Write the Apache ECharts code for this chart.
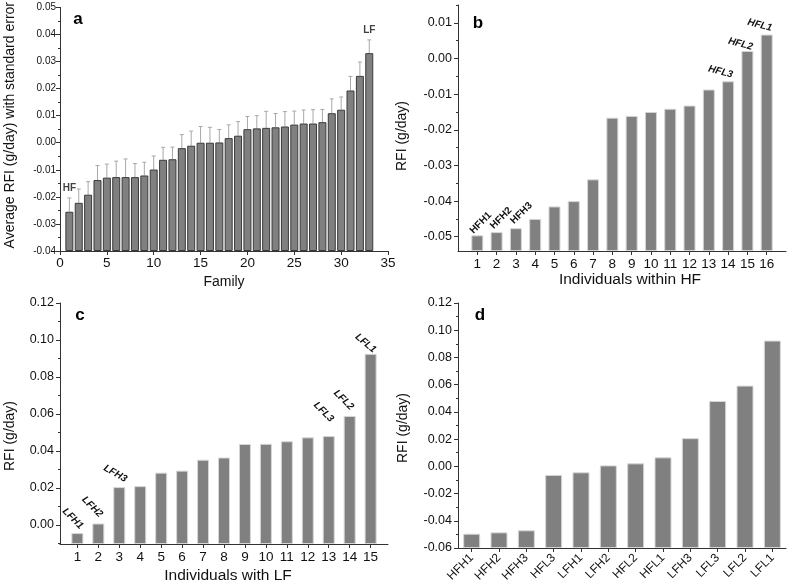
<!DOCTYPE html>
<html><head><meta charset="utf-8">
<script src="https://cdn.jsdelivr.net/npm/echarts@6/dist/echarts.min.js"></script>
<style>html,body{margin:0;padding:0;background:#fff}#c{width:787px;height:585px}</style>
</head><body><div id="c"></div>
<script>
// ---- Panel a: family means with standard error ----
const familyIds = [1,2,3,4,5,6,7,8,9,10,11,12,13,14,15,16,17,18,19,20,21,22,23,24,25,26,27,28,29,30,31,32,33];
const familyRFI = [-0.0255,-0.0222,-0.0192,-0.0138,-0.0129,-0.0127,-0.0127,-0.0127,-0.0121,-0.0099,-0.0063,-0.0061,-0.0020,-0.0011,0.0000,0.0000,0.0001,0.0017,0.0026,0.0050,0.0053,0.0055,0.0057,0.0060,0.0067,0.0071,0.0071,0.0076,0.0109,0.0122,0.0193,0.0247,0.0331];
const familyErr = [0.0051,0.0051,0.0048,0.0054,0.0050,0.0059,0.0067,0.0050,0.0049,0.0050,0.0046,0.0045,0.0050,0.0054,0.0060,0.0057,0.0048,0.0049,0.0052,0.0047,0.0047,0.0061,0.0051,0.0055,0.0050,0.0050,0.0051,0.0047,0.0053,0.0047,0.0052,0.0051,0.0049];
const familyNoteIds = [1, 33];
const familyNotes = ['HF', 'LF'];

// ---- Panel b: individuals within HF ----
const hfIds = [1,2,3,4,5,6,7,8,9,10,11,12,13,14,15,16];
const hfRFI = [-0.0496,-0.0487,-0.0476,-0.0450,-0.0415,-0.0400,-0.0339,-0.0166,-0.0161,-0.0150,-0.0141,-0.0132,-0.0087,-0.0064,0.0021,0.0067];
const hfNames = ['HFH1','HFH2','HFH3','','','','','','','','','','','HFL3','HFL2','HFL1'];

// ---- Panel c: individuals within LF ----
const lfIds = [1,2,3,4,5,6,7,8,9,10,11,12,13,14,15];
const lfRFI = [-0.0045,0.0007,0.0204,0.0209,0.0282,0.0293,0.0352,0.0364,0.0437,0.0438,0.0452,0.0473,0.0480,0.0589,0.0925];
const lfNames = ['LFH1','LFH2','LFH3','','','','','','','','','','LFL3','LFL2','LFL1'];

// ---- Panel d: selected individuals ----
const selNames = ['HFH1','HFH2','HFH3','HFL3','LFH1','LFH2','HFL2','HFL1','LFH3','LFL3','LFL2','LFL1'];
const selRFI = [-0.0495,-0.0485,-0.0470,-0.0063,-0.0044,0.0007,0.0022,0.0066,0.0207,0.0480,0.0593,0.0924];

// ---- tick labels ----
const bYLabels = [-0.05,-0.04,-0.03,-0.02,-0.01,0.00,0.01];
const bYMinor = [-0.045,-0.035,-0.025,-0.015,-0.005,0.005,0.015];
const cYLabels = [0.00,0.02,0.04,0.06,0.08,0.10,0.12];
const cYMinor = [-0.01,0.01,0.03,0.05,0.07,0.09,0.11];

// ---- styles (placement of annotation labels relative to bar top) ----
const FONT = "'Liberation Sans', Arial, sans-serif";
const labelPlace = {
  HFH1:{r:45,dx:3.5,dy:-12.5,it:false}, HFH2:{r:45,dx:4.5,dy:-14,it:false}, HFH3:{r:45,dx:5.5,dy:-15,it:false},
  HFL3:{r:-15,dx:-7.5,dy:-9.5,it:true}, HFL2:{r:-15,dx:-7,dy:-7,it:true}, HFL1:{r:-15,dx:-7,dy:-9.5,it:true},
  LFH1:{r:-45,dx:-4.5,dy:-14.5,it:true}, LFH2:{r:-45,dx:-6,dy:-16.5,it:true}, LFH3:{r:-30,dx:-4,dy:-13.5,it:true},
  LFL3:{r:-45,dx:-5,dy:-24,it:true}, LFL2:{r:-45,dx:-6,dy:-16,it:true}, LFL1:{r:-40,dx:-5,dy:-10.5,it:true}
};
const BW_B = 12, BW_C = 12, BW_D = 17;
function annotate(name, bw) {
  if (!name) return {show:false};
  const p = labelPlace[name];
  return {show:true, formatter:name, position:[bw/2 + p.dx, p.dy], rotate:p.r,
    align:'center', verticalAlign:'middle', fontSize:10, fontWeight:'bold',
    fontStyle:p.it ? 'italic' : 'normal', color:'#111', fontFamily:FONT};
}
const fmt2 = v => (Math.abs(v) < 1e-9 ? 0 : v).toFixed(2);
const axisLine = {show:true, onZero:false, lineStyle:{color:'#333', width:1}};
const tickOut = {show:true, inside:false, length:4, lineStyle:{color:'#333'}};
const txt = (size) => ({fontSize:size, color:'#111', fontFamily:FONT});

const chart = echarts.init(document.getElementById('c'), null, {renderer:'canvas'});
chart.setOption({
  animation:false,
  backgroundColor:'#fff',
  textStyle:{fontFamily:FONT},
  grid:[
    {left:60, top:5, width:328, height:246},
    {left:458, top:5, width:328, height:246},
    {left:60, top:303, width:328, height:243},
    {left:458, top:303, width:328, height:245}
  ],
  xAxis:[
    {gridIndex:0, type:'value', min:0, max:35, interval:5, splitLine:{show:false},
     axisLine, axisTick:tickOut, axisLabel:{...txt(13.5), margin:5},
     name:'Family', nameLocation:'middle', nameGap:24, nameTextStyle:txt(14)},
    {gridIndex:1, type:'value', min:0, max:17, splitLine:{show:false}, axisLine,
     axisTick:{...tickOut, customValues:hfIds}, axisLabel:{...txt(13.5), margin:6, customValues:hfIds},
     name:'Individuals within HF', nameLocation:'middle', nameGap:12,
     nameTextStyle:{...txt(15.5), padding:[0,0,0,16]}},
    {gridIndex:2, type:'value', min:0.17, max:15.83, splitLine:{show:false}, axisLine,
     axisTick:{...tickOut, customValues:lfIds}, axisLabel:{...txt(13.5), margin:6, customValues:lfIds},
     name:'Individuals with LF', nameLocation:'middle', nameGap:24,
     nameTextStyle:{...txt(15.5), padding:[0,0,0,8]}},
    {gridIndex:3, type:'category', data:selNames, axisLine,
     axisTick:{...tickOut, alignWithLabel:true},
     axisLabel:{...txt(12), rotate:45, margin:8, interval:0}}
  ],
  yAxis:[
    {gridIndex:0, type:'value', min:-0.04, max:0.05, interval:0.01, startValue:-0.04,
     splitLine:{show:false}, axisLine, axisTick:tickOut,
     minorTick:{show:true, splitNumber:2, length:2, lineStyle:{color:'#333'}},
     axisLabel:{...txt(10), margin:4, formatter:fmt2},
     name:'Average RFI (g/day) with standard error', nameLocation:'middle', nameGap:43,
     nameTextStyle:{...txt(14), padding:[0,0,0,8]}},
    {gridIndex:1, type:'value', min:-0.054, max:0.015, startValue:-0.054,
     splitLine:{show:false}, axisLine,
     axisTick:{...tickOut, customValues:bYLabels},
     axisLabel:{...txt(12.5), margin:6, formatter:fmt2, customValues:bYLabels},
     name:'RFI (g/day)', nameLocation:'middle', nameGap:49,
     nameTextStyle:{...txt(14), padding:[0,16,0,0]}},
    {gridIndex:2, type:'value', min:-0.0104, max:0.12, startValue:-0.0104,
     splitLine:{show:false}, axisLine,
     axisTick:{...tickOut, customValues:cYLabels},
     axisLabel:{...txt(12.5), margin:6, formatter:fmt2, customValues:cYLabels},
     name:'RFI (g/day)', nameLocation:'middle', nameGap:43,
     nameTextStyle:{...txt(14), padding:[0,25,0,0]}},
    {gridIndex:3, type:'value', min:-0.06, max:0.12, interval:0.02, startValue:-0.06,
     splitLine:{show:false}, axisLine, axisTick:tickOut,
     minorTick:{show:true, splitNumber:2, length:2, lineStyle:{color:'#333'}},
     axisLabel:{...txt(12.5), margin:6, formatter:fmt2},
     name:'RFI (g/day)', nameLocation:'middle', nameGap:48,
     nameTextStyle:{...txt(14), padding:[0,5,0,0]}},
    {gridIndex:1, type:'value', position:'left', min:-0.054, max:0.015, splitLine:{show:false},
     axisLine:{show:false, onZero:false}, axisLabel:{show:false},
     axisTick:{show:true, length:2, customValues:bYMinor, lineStyle:{color:'#333'}}},
    {gridIndex:2, type:'value', position:'left', min:-0.0104, max:0.12, splitLine:{show:false},
     axisLine:{show:false, onZero:false}, axisLabel:{show:false},
     axisTick:{show:true, length:2, customValues:cYMinor, lineStyle:{color:'#333'}}}
  ],
  graphic:[
    {type:'text', x:78, y:19, style:{text:'a', font:'bold 17px ' + FONT, fill:'#000', textAlign:'center', textVerticalAlign:'middle'}},
    {type:'text', x:478, y:23, style:{text:'b', font:'bold 17px ' + FONT, fill:'#000', textAlign:'center', textVerticalAlign:'middle'}},
    {type:'text', x:80, y:315, style:{text:'c', font:'bold 17px ' + FONT, fill:'#000', textAlign:'center', textVerticalAlign:'middle'}},
    {type:'text', x:480, y:315, style:{text:'d', font:'bold 17px ' + FONT, fill:'#000', textAlign:'center', textVerticalAlign:'middle'}}
  ],
  series:[
    {type:'bar', xAxisIndex:0, yAxisIndex:0, barWidth:8,
     itemStyle:{color:'#808080', borderColor:'#3a3a3a', borderWidth:1},
     data:familyIds.map((f,i)=>[f, familyRFI[i]])},
    {type:'custom', xAxisIndex:0, yAxisIndex:0,
     data:familyIds.map((f,i)=>[f, familyRFI[i], familyRFI[i] + familyErr[i]]),
     renderItem:(params, api)=>{
       const p0 = api.coord([api.value(0), api.value(1)]);
       const p1 = api.coord([api.value(0), api.value(2)]);
       const st = {stroke:'#a8a8a8', lineWidth:1};
       return {type:'group', children:[
         {type:'line', shape:{x1:p0[0], y1:p0[1], x2:p1[0], y2:p1[1]}, style:st},
         {type:'line', shape:{x1:p1[0]-2, y1:p1[1], x2:p1[0]+2, y2:p1[1]}, style:st}
       ]};
     }},
    {type:'scatter', xAxisIndex:0, yAxisIndex:0, symbolSize:0, silent:true,
     data:familyNoteIds.map((f,k)=>{ const i = familyIds.indexOf(f); return {value:[f, familyRFI[i] + familyErr[i]], name:familyNotes[k]}; }),
     label:{show:true, position:'top', distance:5, formatter:p=>p.name, fontSize:10, fontWeight:'bold', color:'#111', fontFamily:FONT}},
    {type:'bar', xAxisIndex:1, yAxisIndex:1, barWidth:BW_B,
     itemStyle:{color:'#808080', borderColor:'#d6d6d6', borderWidth:1},
     data:hfIds.map((x,i)=>({value:[x, hfRFI[i]], label:annotate(hfNames[i], BW_B)}))},
    {type:'bar', xAxisIndex:2, yAxisIndex:2, barWidth:BW_C,
     itemStyle:{color:'#808080', borderColor:'#d6d6d6', borderWidth:1},
     data:lfIds.map((x,i)=>({value:[x, lfRFI[i]], label:annotate(lfNames[i], BW_C)}))},
    {type:'bar', xAxisIndex:3, yAxisIndex:3, barWidth:BW_D,
     itemStyle:{color:'#808080', borderColor:'#d6d6d6', borderWidth:1},
     data:selRFI}
  ]
});
</script></body></html>
